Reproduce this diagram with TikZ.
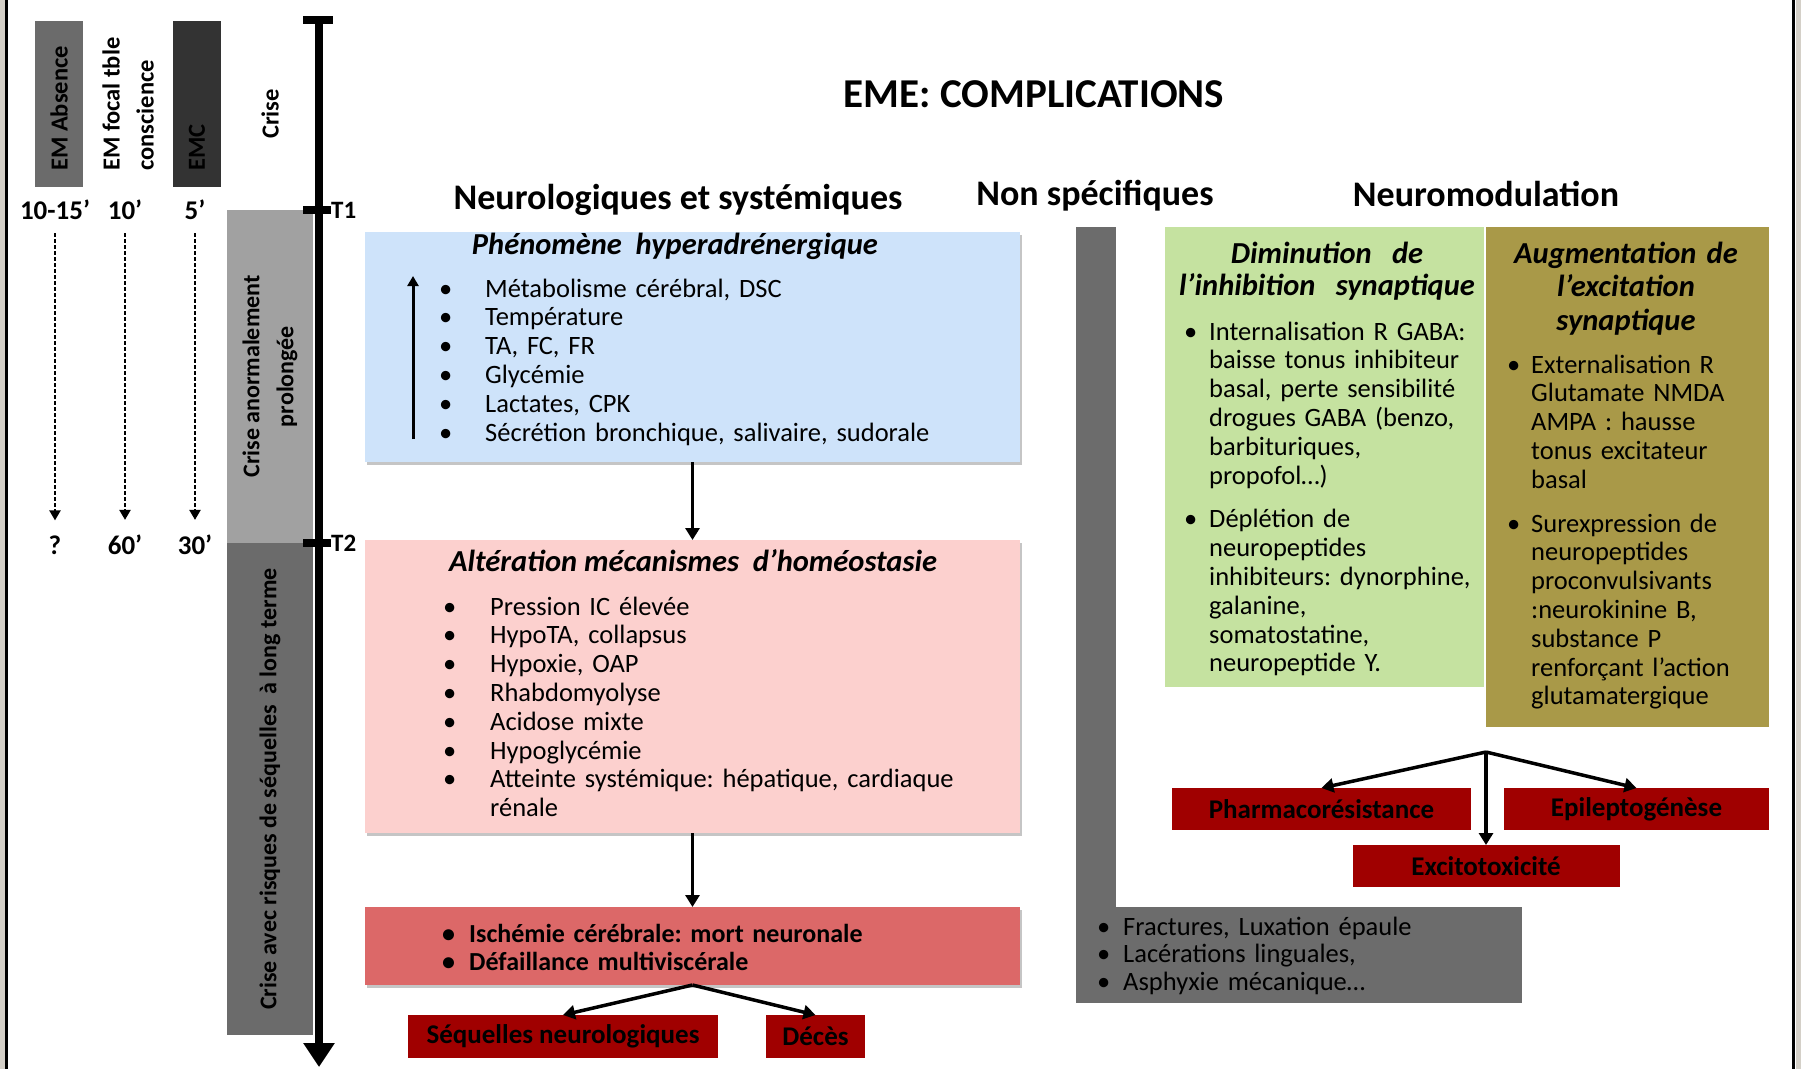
\documentclass[tikz,border=0pt]{standalone}
\usepackage{fontspec}
\setmainfont{Carlito}
\usepackage{tikz}
\usetikzlibrary{arrows.meta,positioning,shadows}
\frenchspacing

\definecolor{bleuclair}{RGB}{206,227,250}
\definecolor{roseclair}{RGB}{252,208,206}
\definecolor{rougemoyen}{RGB}{220,104,104}
\definecolor{rougefonce}{RGB}{160,0,0}
\definecolor{vertclair}{RGB}{197,226,160}
\definecolor{olive}{RGB}{169,153,72}
\definecolor{grisns}{RGB}{108,108,108}
\definecolor{beige}{RGB}{212,208,200}

\newcommand{\itm}[2]{\hangindent=#1\hangafter=1\makebox[#1][l]{\textbullet}#2\par}

\tikzstyle{cadre}=[rectangle, inner sep=0pt, outer sep=0pt]
\tikzstyle{cadreombre}=[cadre, drop shadow={shadow xshift=2pt, shadow yshift=-3pt, opacity=.45}]
\tikzstyle{liste}=[inner sep=0pt, anchor=base west, align=left, font=\fontsize{26.5}{28.8}\selectfont]
\tikzstyle{titreboite}=[inner sep=0pt, anchor=base, font=\fontsize{30.5}{32}\selectfont\bfseries\itshape]
\tikzstyle{entete}=[inner sep=0pt, anchor=base, font=\fontsize{36}{40}\selectfont\bfseries]
\tikzstyle{rouge}=[cadre, fill=rougefonce, font=\fontsize{27}{30}\selectfont\bfseries]
\tikzstyle{fleche}=[line width=3.5pt, -{Triangle[width=14pt,length=12pt]}]
\tikzstyle{flechept}=[line width=2.2pt, dash pattern=on 4pt off 2pt, -{Triangle[width=11pt,length=10pt]}]
\tikzstyle{rot}=[inner sep=0pt, rotate=90, font=\fontsize{24.5}{34}\selectfont\bfseries]
\tikzstyle{chiffre}=[inner sep=0pt, font=\fontsize{27}{30}\selectfont\bfseries]
\tikzstyle{axe}=[line width=8pt]

\begin{document}
\begin{tikzpicture}[x=1pt, y=-1pt]
	\useasboundingbox (0,0) rectangle (1801,1069);
	\fill[white] (0,0) rectangle (1801,1069);
	\fill[beige] (0,0) rectangle (5,1069);
	\fill[beige] (1796,0) rectangle (1801,1069);
	\draw[line width=3pt] (6.5,0) -- (6.5,1069);
	\draw[line width=3pt] (1793.5,0) -- (1793.5,1069);

	% types d'etat de mal
	\node[cadre, fill=black!58, minimum width=48pt, minimum height=166pt] (emabs) at (59,104) {};
	\node[rot, anchor=west] (lblabs) at (59,171) {EM Absence};
	\node[rot, anchor=west, align=left] (lblfocal) at (128,171) {EM focal tble\\conscience};
	\node[cadre, fill=black!80, minimum width=48pt, minimum height=166pt] (emc) at (197,104) {};
	\node[rot, anchor=west] (lblemc) at (197,171) {EMC};
	\node[rot] (lblcrise) at (270,114) {Crise};

	\node[chiffre] (deb1) at (55,210) {10-15’};
	\node[chiffre] (deb2) at (125,210) {10’};
	\node[chiffre] (deb3) at (195,210) {5’};
	\node[chiffre] (fin1) at (55,545) {?};
	\node[chiffre] (fin2) at (125,545) {60’};
	\node[chiffre] (fin3) at (195,545) {30’};
	\draw[flechept, shorten <=13pt, shorten >=15pt] (deb1.south) -- (fin1.north);
	\draw[flechept, shorten <=13pt, shorten >=15pt] (deb2.south) -- (fin2.north);
	\draw[flechept, shorten <=13pt, shorten >=15pt] (deb3.south) -- (fin3.north);

	% phases
	\node[cadre, fill=black!37, minimum width=333pt, minimum height=86pt, rotate=90, align=center,
		font=\fontsize{24}{34}\selectfont\bfseries] (phase1) at (270,376.5) {Crise anormalement\\prolongée};
	\node[cadre, fill=black!58, minimum width=492pt, minimum height=86pt, rotate=90,
		font=\fontsize{24}{34}\selectfont\bfseries] (phase2) at (270,789) {Crise avec risques de séquelles\ \ à long terme};

	% axe du temps
	\coordinate (thaut) at (319,20);
	\coordinate (tbas) at (319,1067);
	\draw[axe, -{Triangle[width=30pt,length=24pt]}] (thaut) -- (tbas);
	\draw[axe] (303,20) -- (333,20);
	\draw[axe] (303,210) -- (331,210);
	\draw[axe] (303,543) -- (331,543);
	\node[chiffre, anchor=west, font=\fontsize{25}{30}\selectfont\bfseries] (tun) at (331,210) {T1};
	\node[chiffre, anchor=west, font=\fontsize{25}{30}\selectfont\bfseries] (tdeux) at (331,543) {T2};

	% titres
	\node[inner sep=0pt, anchor=base, font=\fontsize{41}{46}\selectfont\bfseries] (titre) at (1034,107) {EME: COMPLICATIONS};
	\node[entete] (hneuro) at (678,209) {Neurologiques et systémiques};
	\node[entete] (hnonspec) at (1095,205) {Non spécifiques};
	\node[entete] (hneuromod) at (1486,206) {Neuromodulation};

	% neurologiques et systemiques
	\node[cadreombre, fill=bleuclair, minimum width=655pt, minimum height=230pt] (hyper) at (692.5,347) {};
	\node[titreboite] (thyper) at (675,254) {Phénomène\ \ hyperadrénergique};
	\node[liste, text width=570pt] (lhyper) at (439,297) {\itm{46pt}{Métabolisme cérébral, DSC}\itm{46pt}{Température}\itm{46pt}{TA, FC, FR}\itm{46pt}{Glycémie}\itm{46pt}{Lactates, CPK}\itm{46pt}{Sécrétion bronchique, salivaire, sudorale}};
	\coordinate (hbas) at (413,439);
	\coordinate (hhaut) at (413,276);
	\draw[line width=3pt, -{Triangle[width=11pt,length=10pt]}] (hbas) -- (hhaut);

	\node[cadreombre, fill=roseclair, minimum width=655pt, minimum height=293pt] (homeo) at (692.5,686.5) {};
	\node[titreboite] (thomeo) at (693,571) {Altération mécanismes\ \ d’homéostasie};
	\node[liste, text width=560pt] (lhomeo) at (443,615) {\itm{47pt}{Pression IC élevée}\itm{47pt}{HypoTA, collapsus}\itm{47pt}{Hypoxie, OAP}\itm{47pt}{Rhabdomyolyse}\itm{47pt}{Acidose mixte}\itm{47pt}{Hypoglycémie}\itm{47pt}{Atteinte systémique: hépatique, cardiaque\newline rénale}};

	\node[cadreombre, fill=rougemoyen, minimum width=655pt, minimum height=78pt] (ischemie) at (692.5,946) {};
	\node[liste, text width=560pt, font=\fontsize{26}{28}\selectfont\bfseries] (lisch) at (442,942) {\itm{27pt}{Ischémie cérébrale: mort neuronale}\itm{27pt}{Défaillance multiviscérale}};

	\draw[fleche] (hyper.south) -- (homeo.north);
	\draw[fleche] (homeo.south) -- (ischemie.north);

	\node[rouge, minimum width=310pt, minimum height=43pt] (sequelles) at (563,1036.5) {Séquelles neurologiques};
	\node[rouge, minimum width=99pt, minimum height=43pt, right=48pt of sequelles] (deces) {Décès};
	\draw[fleche] (ischemie.south) -- (sequelles.north);
	\draw[fleche] (ischemie.south) -- (deces.north);

	% non specifiques
	\node[cadre, fill=grisns, minimum width=40pt, minimum height=686pt] (nsbarre) at (1096,570) {};
	\node[cadre, fill=grisns, minimum width=446pt, minimum height=96pt] (nsboite) at (1299,955) {};
	\node[liste, text width=420pt, font=\fontsize{26.5}{27.5}\selectfont] (lns) at (1097,935) {\itm{26pt}{Fractures, Luxation épaule}\itm{26pt}{Lacérations linguales,}\itm{26pt}{Asphyxie mécanique…}};

	% neuromodulation
	\node[cadre, fill=vertclair, minimum width=319pt, minimum height=460pt] (inhib) at (1324.5,457) {};
	\node[cadre, fill=olive, minimum width=283pt, minimum height=500pt] (excit) at (1627.5,477) {};
	\node[titreboite, text width=319pt, align=center] (tinhib) at (1327,263) {Diminution\ \ de\\l’inhibition\ \ synaptique};
	\node[titreboite, text width=283pt, align=center, font=\fontsize{30.5}{33.5}\selectfont\bfseries\itshape] (texcit) at (1626,263) {Augmentation de\\l’excitation\\synaptique};
	\node[liste, text width=320pt] (linhib) at (1184,340) {\itm{25pt}{Internalisation R GABA:\newline baisse tonus inhibiteur\newline basal, perte sensibilité\newline drogues GABA (benzo,\newline barbituriques,\newline propofol…)}\vspace{15pt}\itm{25pt}{Déplétion de\newline neuropeptides\newline inhibiteurs: dynorphine,\newline galanine,\newline somatostatine,\newline neuropeptide Y.}};
	\node[liste, text width=280pt] (lexcit) at (1507,373) {\itm{24pt}{Externalisation R\newline Glutamate NMDA\newline AMPA : hausse\newline tonus excitateur\newline basal}\vspace{15pt}\itm{24pt}{Surexpression de\newline neuropeptides\newline proconvulsivants\newline :neurokinine B,\newline substance P\newline renforçant l’action\newline glutamatergique}};

	\coordinate (fourche) at (1486,752);
	\node[rouge, minimum width=299pt, minimum height=42pt] (pharma) at (1321.5,809) {Pharmacorésistance};
	\node[rouge, minimum width=265pt, minimum height=42pt] (epilepto) at (1636.5,809) {Epileptogénèse};
	\node[rouge, minimum width=267pt, minimum height=42pt] (excito) at (1486,866) {Excitotoxicité};
	\draw[fleche] (fourche) -- (pharma.north);
	\draw[fleche] (fourche) -- (epilepto.north);
	\draw[fleche] (fourche) -- (excito.north);
\end{tikzpicture}
\end{document}
